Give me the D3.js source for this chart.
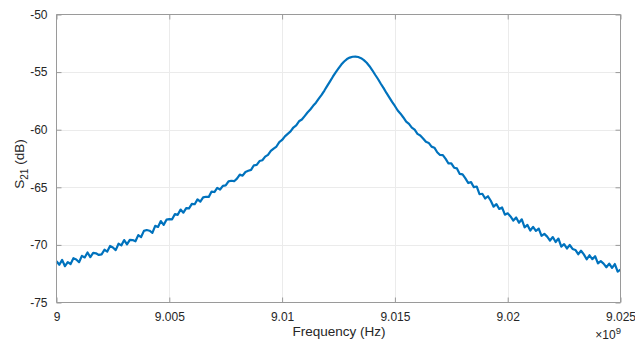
<!DOCTYPE html>
<html><head><meta charset="utf-8">
<script src="https://cdn.jsdelivr.net/npm/d3@7"></script>
<style>
html,body{margin:0;padding:0;background:#fff;}
svg{display:block;font-family:"Liberation Sans",Arial,Helvetica,sans-serif;}
</style></head>
<body>
<svg id="chart" width="635" height="342"></svg>
<script>
// Sweep: start frequency (Hz) and step (Hz) of the measured points
const freqStart = 9.000e9;
const freqStep = 0.125e6;
const s21dB = [
 -71.42,-71.72,-71.30,-71.85,-71.49,-71.66,-71.16,-71.27,
 -71.50,-70.95,-71.09,-70.66,-71.06,-70.69,-70.73,-70.87,
 -70.82,-70.42,-70.58,-70.09,-70.22,-70.45,-69.90,-70.04,
 -69.58,-69.96,-69.56,-69.58,-69.69,-69.15,-69.32,-68.78,
 -68.71,-68.77,-68.95,-68.35,-68.44,-67.93,-68.26,-67.81,
 -67.77,-67.78,-67.32,-67.39,-66.93,-67.20,-66.81,-66.83,
 -66.44,-66.47,-66.05,-66.25,-65.88,-65.82,-65.83,-65.37,
 -65.41,-65.05,-65.19,-64.87,-64.84,-64.48,-64.43,-64.47,
 -64.25,-63.90,-63.99,-63.67,-63.57,-63.49,-63.09,-63.06,
 -62.72,-62.65,-62.34,-62.19,-61.84,-61.64,-61.46,-61.08,
 -60.89,-60.58,-60.36,-60.15,-59.81,-59.62,-59.27,-59.12,
 -58.82,-58.51,-58.25,-57.93,-57.66,-57.31,-56.98,-56.60,
 -56.20,-55.80,-55.40,-55.02,-54.68,-54.35,-54.08,-53.87,
 -53.74,-53.67,-53.65,-53.69,-53.79,-53.96,-54.19,-54.49,
 -54.84,-55.23,-55.60,-56.01,-56.39,-56.81,-57.19,-57.59,
 -57.94,-58.33,-58.61,-58.94,-59.30,-59.50,-59.82,-60.00,
 -60.36,-60.50,-60.76,-61.05,-61.15,-61.47,-61.56,-61.96,
 -62.19,-62.21,-62.53,-62.93,-62.92,-63.30,-63.36,-63.84,
 -63.88,-64.22,-64.63,-64.55,-64.99,-64.93,-65.60,-65.56,
 -65.97,-65.78,-66.17,-66.68,-66.46,-66.88,-66.75,-67.38,
 -67.26,-67.53,-67.89,-67.62,-68.07,-67.78,-68.47,-68.27,
 -68.75,-68.43,-68.79,-68.58,-69.21,-69.04,-69.28,-69.62,
 -69.32,-69.75,-69.45,-70.15,-69.94,-70.31,-70.01,-70.35,
 -70.44,-70.81,-70.51,-70.82,-71.25,-70.90,-71.24,-70.98,
 -71.61,-71.41,-71.63,-71.94,-71.62,-72.00,-71.66,-72.32,
 -72.15
];
const xTicks = [9.000e9, 9.005e9, 9.010e9, 9.015e9, 9.020e9, 9.025e9];
const xTickLabels = ["9", "9.005", "9.01", "9.015", "9.02", "9.025"];
const yTicks = [-75, -70, -65, -60, -55, -50];
const xDomain = [9.000e9, 9.025e9];
const yDomain = [-75, -50];

const data = s21dB.map((v, i) => ({f: freqStart + i * freqStep, v}));

const L = 56.5, R = 620.5, T = 14.5, B = 302.5;
const svg = d3.select("#chart");
const x = d3.scaleLinear().domain(xDomain).range([L, R]);
const y = d3.scaleLinear().domain(yDomain).range([B, T]);

const txt = "#262626", axc = "#9a9a9a", gridc = "#ebebeb";

// grid
const g = svg.append("g");
g.selectAll(".gx").data(xTicks.slice(1, -1)).join("line")
  .attr("x1", d => Math.round(x(d)) + 0.5).attr("x2", d => Math.round(x(d)) + 0.5)
  .attr("y1", T).attr("y2", B).attr("stroke", gridc).attr("stroke-width", 1);
g.selectAll(".gy").data(yTicks.slice(1, -1)).join("line")
  .attr("y1", d => Math.round(y(d)) + 0.5).attr("y2", d => Math.round(y(d)) + 0.5)
  .attr("x1", L).attr("x2", R).attr("stroke", gridc).attr("stroke-width", 1);

// data line
const line = d3.line().x(d => x(d.f)).y(d => y(d.v));
svg.append("path").datum(data).attr("d", line)
  .attr("fill", "none").attr("stroke", "#0072BD").attr("stroke-width", 2.2)
  .attr("stroke-linejoin", "round");

// axes with inward ticks
const xb = d3.axisBottom(x).tickValues(xTicks).tickSize(-5).tickPadding(10)
  .tickFormat((d, i) => xTickLabels[i]);
const xt = d3.axisTop(x).tickValues(xTicks).tickSize(-5).tickFormat("");
const yl = d3.axisLeft(y).tickValues(yTicks).tickSize(-5).tickPadding(9)
  .tickFormat(d => d3.format("d")(d).replace("−", "-"));
const yr = d3.axisRight(y).tickValues(yTicks).tickSize(-5).tickFormat("");

function style(sel) {
  sel.selectAll(".domain").attr("stroke", axc).attr("stroke-width", 1);
  sel.selectAll(".tick line").attr("stroke", axc).attr("stroke-width", 1);
  sel.selectAll("text").attr("fill", txt).style("font-size", "12px")
    .style("font-family", "'Liberation Sans',Arial,sans-serif");
}
const gxb = svg.append("g").attr("transform", `translate(0,${B})`).call(xb);
gxb.selectAll(".domain").attr("d", `M${L},0H${R}`);
style(gxb);
const gxt = svg.append("g").attr("transform", `translate(0,${T})`).call(xt);
gxt.selectAll(".domain").attr("d", `M${L},0H${R}`);
style(gxt);
const gyl = svg.append("g").attr("transform", `translate(${L},0)`).call(yl);
gyl.selectAll(".domain").attr("d", `M0,${T}V${B}`);
style(gyl);
const gyr = svg.append("g").attr("transform", `translate(${R},0)`).call(yr);
gyr.selectAll(".domain").attr("d", `M0,${T}V${B}`);
style(gyr);

// x label
svg.append("text").attr("x", 339).attr("y", 336).attr("text-anchor", "middle")
  .attr("fill", txt).style("font-size", "13.5px").text("Frequency (Hz)");

// exponent ×10^9
const ex = svg.append("text").attr("x", 621).attr("y", 339).attr("text-anchor", "end")
  .attr("fill", txt).style("font-size", "12px");
ex.append("tspan").text("\u00D710");
ex.append("tspan").attr("dy", -5).style("font-size", "9.5px").text("9");

// y label S21 (dB)
const yt = svg.append("text").attr("transform", `translate(24,164) rotate(-90)`)
  .attr("text-anchor", "middle").attr("fill", txt).style("font-size", "13.5px");
yt.append("tspan").text("S");
yt.append("tspan").attr("dy", 4).style("font-size", "10px").text("21");
yt.append("tspan").attr("dy", -4).text(" (dB)");
</script>
</body></html>
